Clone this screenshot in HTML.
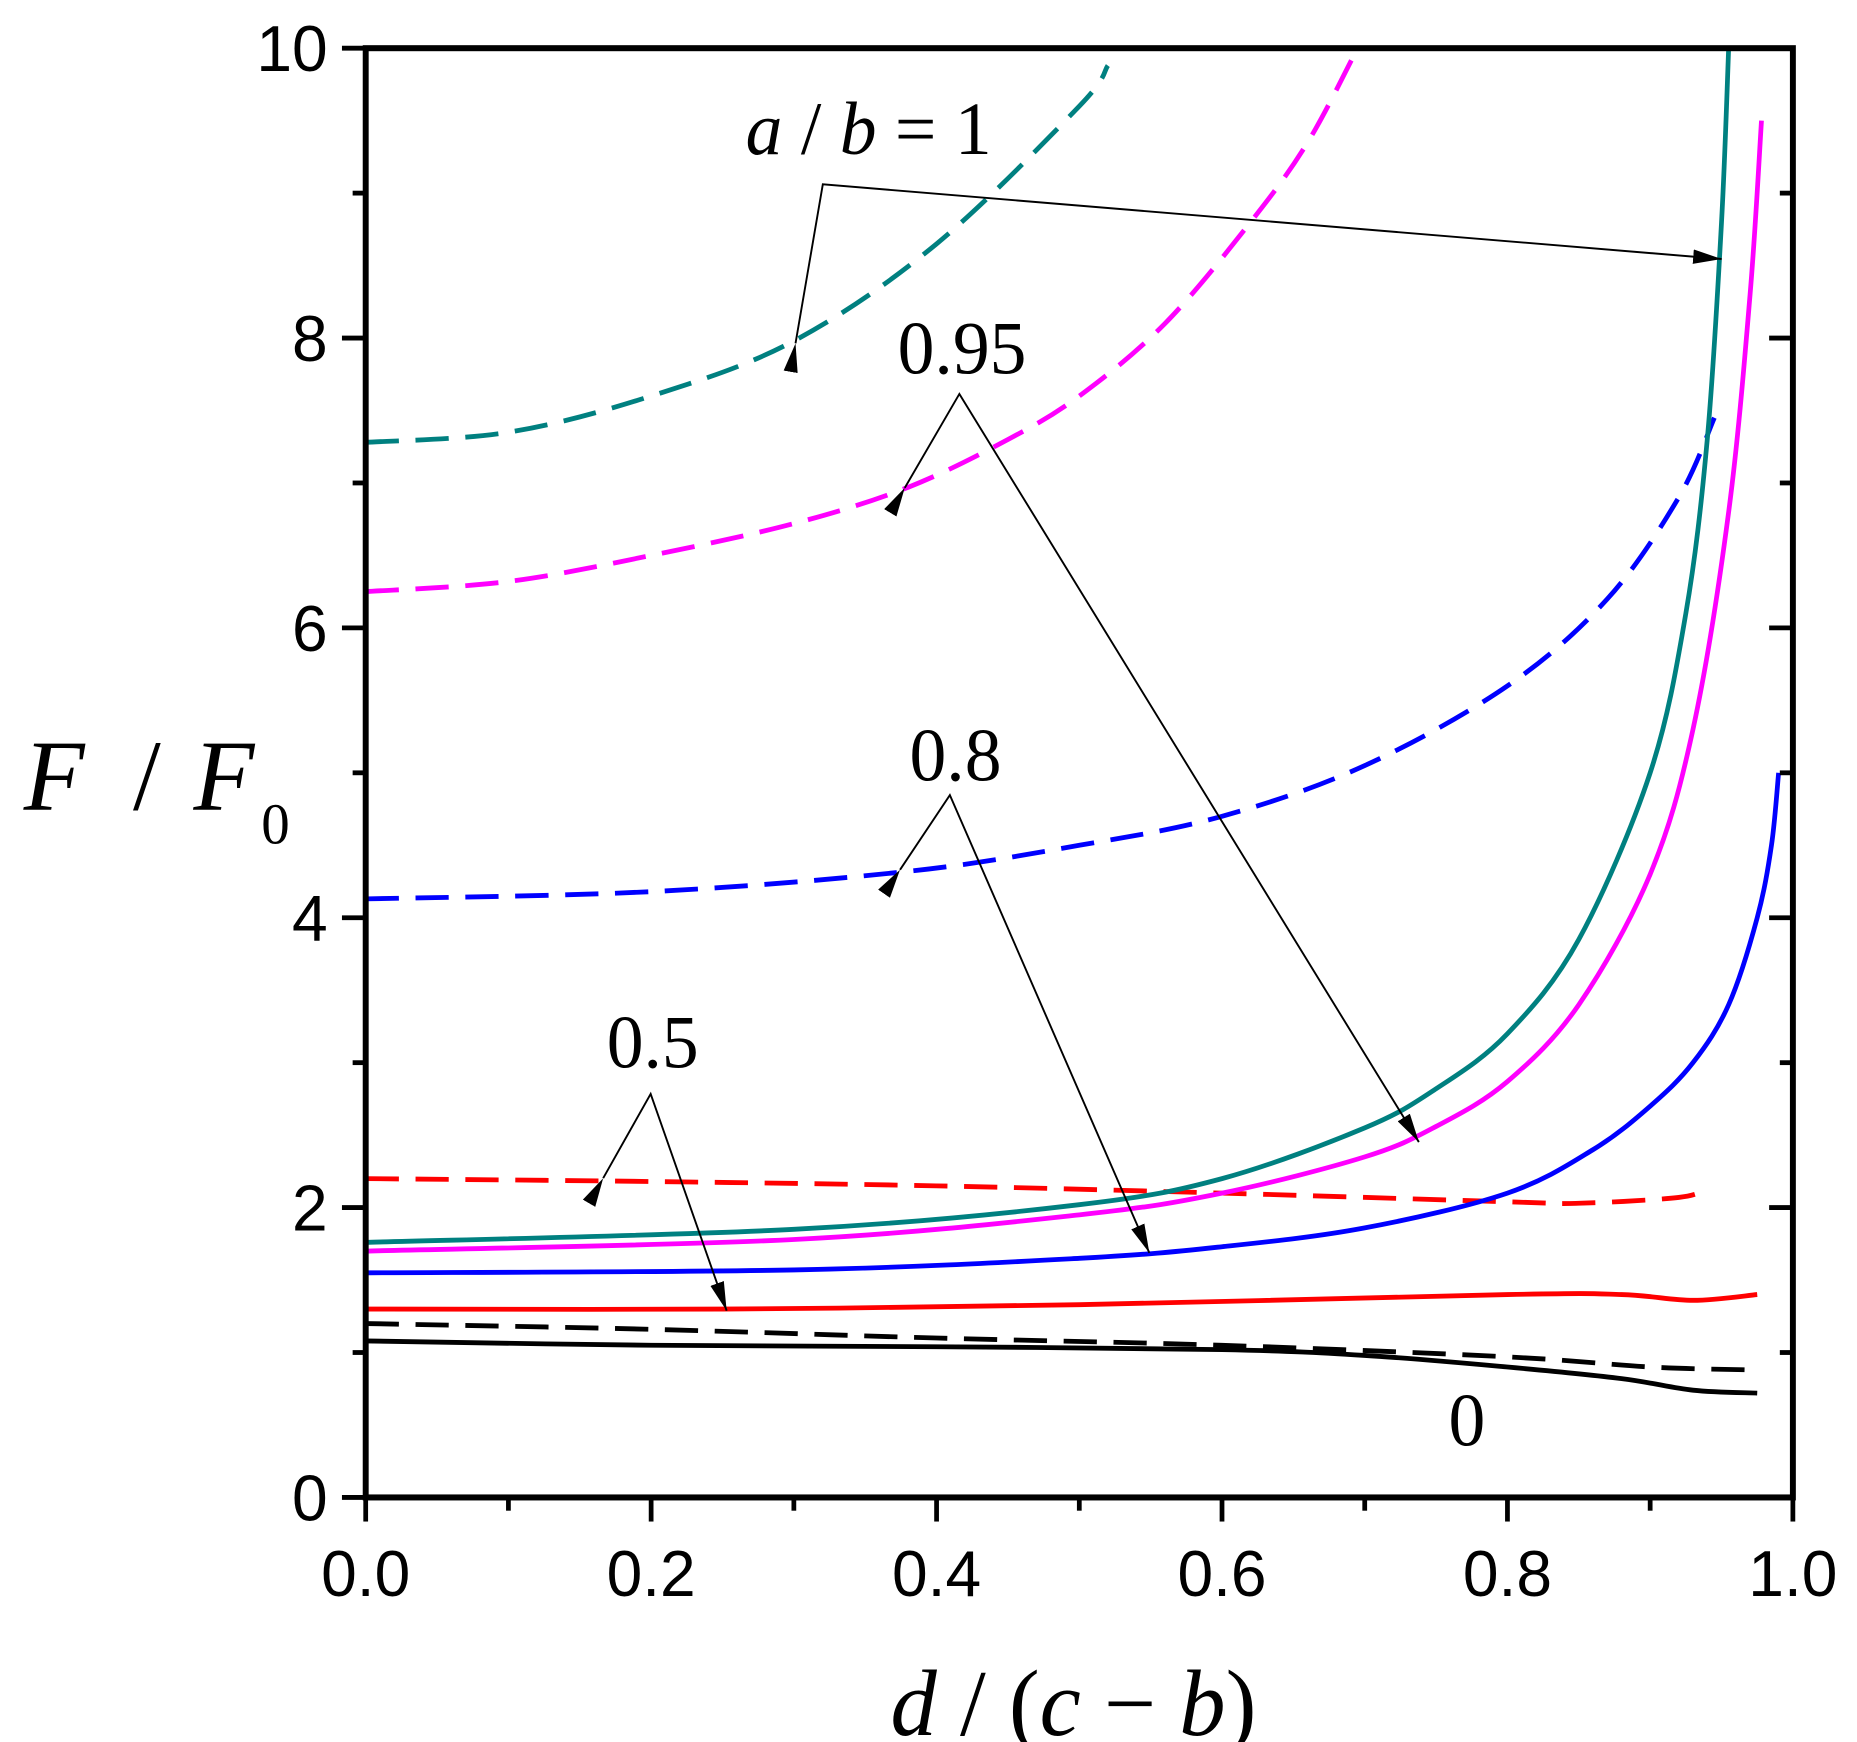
<!DOCTYPE html>
<html><head><meta charset="utf-8"><style>
html,body{margin:0;padding:0;background:#fff;}
svg{display:block;}
</style></head><body>
<svg id="s" width="1857" height="1742" viewBox="0 0 1564 1446" preserveAspectRatio="none" xmlns="http://www.w3.org/2000/svg">
<defs>
<marker id="ah" viewBox="0 0 24 12" refX="24" refY="6" markerWidth="24" markerHeight="12" markerUnits="userSpaceOnUse" orient="auto">
<path d="M0,0 L24,6 L0,12 Z" fill="#000"/>
</marker>
</defs>
<g id="curves" fill="none" stroke-width="4" stroke-linejoin="round"></g>
<g id="axes" stroke="#000" fill="none"></g>
<g font-family="Liberation Sans, Arial, sans-serif" font-size="54" fill="#000" id="lab"></g>
<g stroke="#000" stroke-width="1.6" fill="none">
<polyline points="670,285 693,153 1450,215" marker-start="url(#ah)" marker-end="url(#ah)"/>
<polyline points="762,405 808,327 1195,948" marker-start="url(#ah)" marker-end="url(#ah)"/>
<polyline points="758,722 800,660 968,1040" marker-start="url(#ah)" marker-end="url(#ah)"/>
<polyline points="508,978 548,908 612,1088" marker-start="url(#ah)" marker-end="url(#ah)"/>
</g>
<g font-family="Liberation Serif, Times New Roman, serif" fill="#000" font-size="62">
<text x="628" y="128"><tspan font-style="italic">a</tspan> / <tspan font-style="italic">b</tspan> = 1</text>
<text x="756" y="310">0.95</text>
<text x="766" y="648">0.8</text>
<text x="511" y="886">0.5</text>
<text x="1220" y="1200">0</text>
<text x="20" y="672" font-size="84" font-style="italic">F</text>
<text x="112" y="672" font-size="84">/</text>
<text x="163" y="672" font-size="84" font-style="italic">F</text>
<text x="220" y="700" font-size="48">0</text>
<text x="750" y="1440" font-size="78"><tspan font-style="italic">d</tspan> / (<tspan font-style="italic">c</tspan> − <tspan font-style="italic">b</tspan>)</text>
</g>
</svg>
<script>
var X=function(x){return 308+1202*x;},Y=function(v){return 1243-120.3*v;};
var NS="http://www.w3.org/2000/svg";
function path(pts){var p=pts.map(function(a){return [X(a[0]),Y(a[1])];});
 var d="M"+p[0][0]+","+p[0][1];
 for(var i=0;i<p.length-1;i++){var p0=p[i-1]||p[i],p1=p[i],p2=p[i+1],p3=p[i+2]||p2;
  var c1x=p1[0]+(p2[0]-p0[0])/6,c1y=p1[1]+(p2[1]-p0[1])/6,c2x=p2[0]-(p3[0]-p1[0])/6,c2y=p2[1]-(p3[1]-p1[1])/6;
  d+=" C"+c1x+","+c1y+" "+c2x+","+c2y+" "+p2[0]+","+p2[1];}
 return d;}
var series=[
["#008080",1,[[0,7.28],[0.1,7.35],[0.2,7.6],[0.3,7.98],[0.4,8.65],[0.5,9.6],[0.52,9.88]]],
["#ff00ff",1,[[0,6.25],[0.1,6.32],[0.2,6.5],[0.3,6.72],[0.38,6.97],[0.45,7.3],[0.5,7.6],[0.56,8.1],[0.62,8.8],[0.66,9.35],[0.695,10]]],
["#0000ff",1,[[0,4.13],[0.2,4.18],[0.38,4.32],[0.5,4.5],[0.6,4.7],[0.7,5.05],[0.8,5.6],[0.87,6.2],[0.92,6.9],[0.945,7.45]]],
["#ff0000",1,[[0,2.2],[0.2,2.18],[0.4,2.15],[0.6,2.1],[0.8,2.04],[0.85,2.03],[0.92,2.07],[0.94,2.13]]],
["#000000",1,[[0,1.2],[0.2,1.16],[0.4,1.1],[0.6,1.05],[0.8,0.97],[0.9,0.9],[0.97,0.88]]],
["#000000",0,[[0,1.08],[0.2,1.05],[0.4,1.04],[0.6,1.02],[0.7,0.98],[0.8,0.9],[0.88,0.82],[0.93,0.74],[0.975,0.72]]],
["#ff0000",0,[[0,1.3],[0.25,1.3],[0.5,1.33],[0.8,1.4],[0.88,1.4],[0.93,1.36],[0.975,1.4]]],
["#0000ff",0,[[0,1.55],[0.3,1.57],[0.5,1.65],[0.6,1.73],[0.7,1.86],[0.8,2.1],[0.86,2.4],[0.9,2.7],[0.93,3.0],[0.955,3.4],[0.975,4.0],[0.985,4.5],[0.99,5.0]]],
["#ff00ff",0,[[0,1.7],[0.3,1.78],[0.5,1.95],[0.6,2.1],[0.7,2.35],[0.75,2.56],[0.8,2.87],[0.85,3.4],[0.9,4.3],[0.93,5.3],[0.955,6.8],[0.97,8.3],[0.978,9.5]]],
["#008080",0,[[0,1.76],[0.3,1.85],[0.5,2.02],[0.6,2.2],[0.7,2.55],[0.75,2.82],[0.8,3.2],[0.85,3.85],[0.9,5.0],[0.925,6.1],[0.94,7.3],[0.95,8.8],[0.955,10]]]];
var g=document.getElementById("curves");
series.forEach(function(s){var e=document.createElementNS(NS,"path");e.setAttribute("d",path(s[2]));e.setAttribute("stroke",s[0]);
 if(s[1])e.setAttribute("stroke-dasharray","28 14");g.appendChild(e);});
var a=document.getElementById("axes"),L=document.getElementById("lab");
function ln(x1,y1,x2,y2,w){var e=document.createElementNS(NS,"line");e.setAttribute("x1",x1);e.setAttribute("y1",y1);e.setAttribute("x2",x2);e.setAttribute("y2",y2);e.setAttribute("stroke-width",w);a.appendChild(e);}
function tx(x,y,t,anc){var e=document.createElementNS(NS,"text");e.setAttribute("x",x);e.setAttribute("y",y);e.setAttribute("text-anchor",anc);e.textContent=t;L.appendChild(e);}
var r=document.createElementNS(NS,"rect");r.setAttribute("x",308);r.setAttribute("y",40);r.setAttribute("width",1202);r.setAttribute("height",1203);r.setAttribute("stroke-width",5);a.appendChild(r);
for(var i=0;i<=10;i++){var xx=X(i/10),maj=i%2==0;ln(xx,1243,xx,1243+(maj?20:11),4);
 if(maj)tx(xx,1325,(i/10).toFixed(1),"middle");}
for(var v=0;v<=10;v++){var yy=Y(v),maj=v%2==0;ln(308,yy,308-(maj?20:11),yy,4);ln(1510,yy,1510-(maj?20:11),yy,4);
 if(maj)tx(276,yy+19,String(v),"end");}
</script>
</body></html>
